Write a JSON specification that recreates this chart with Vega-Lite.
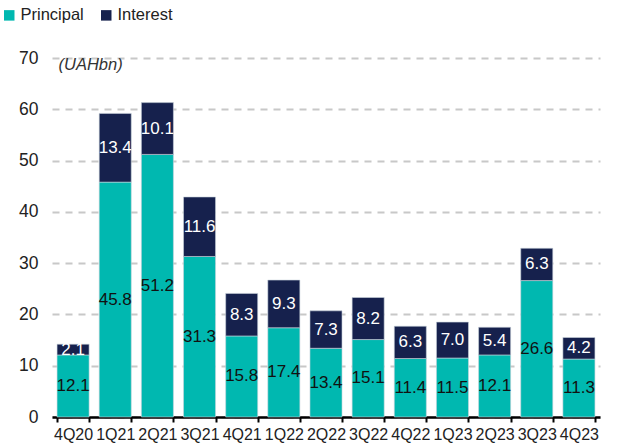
{
  "$schema": "https://vega.github.io/schema/vega-lite/v6.json",
  "autosize": "none",
  "width": 548,
  "height": 359,
  "padding": {"left": 52, "top": 58, "right": 19, "bottom": 30},
  "config": {
    "font": "Liberation Sans",
    "view": {"stroke": null}
  },
  "data": {
    "values": [
      {"q": "4Q20", "series": "Principal", "v": 12.1, "o": 0},
      {"q": "4Q20", "series": "Interest", "v": 2.1, "o": 1},
      {"q": "1Q21", "series": "Principal", "v": 45.8, "o": 0},
      {"q": "1Q21", "series": "Interest", "v": 13.4, "o": 1},
      {"q": "2Q21", "series": "Principal", "v": 51.2, "o": 0},
      {"q": "2Q21", "series": "Interest", "v": 10.1, "o": 1},
      {"q": "3Q21", "series": "Principal", "v": 31.3, "o": 0},
      {"q": "3Q21", "series": "Interest", "v": 11.6, "o": 1},
      {"q": "4Q21", "series": "Principal", "v": 15.8, "o": 0},
      {"q": "4Q21", "series": "Interest", "v": 8.3, "o": 1},
      {"q": "1Q22", "series": "Principal", "v": 17.4, "o": 0},
      {"q": "1Q22", "series": "Interest", "v": 9.3, "o": 1},
      {"q": "2Q22", "series": "Principal", "v": 13.4, "o": 0},
      {"q": "2Q22", "series": "Interest", "v": 7.3, "o": 1},
      {"q": "3Q22", "series": "Principal", "v": 15.1, "o": 0},
      {"q": "3Q22", "series": "Interest", "v": 8.2, "o": 1},
      {"q": "4Q22", "series": "Principal", "v": 11.4, "o": 0},
      {"q": "4Q22", "series": "Interest", "v": 6.3, "o": 1},
      {"q": "1Q23", "series": "Principal", "v": 11.5, "o": 0},
      {"q": "1Q23", "series": "Interest", "v": 7.0, "o": 1},
      {"q": "2Q23", "series": "Principal", "v": 12.1, "o": 0},
      {"q": "2Q23", "series": "Interest", "v": 5.4, "o": 1},
      {"q": "3Q23", "series": "Principal", "v": 26.6, "o": 0},
      {"q": "3Q23", "series": "Interest", "v": 6.3, "o": 1},
      {"q": "4Q23", "series": "Principal", "v": 11.3, "o": 0},
      {"q": "4Q23", "series": "Interest", "v": 4.2, "o": 1}
    ]
  },
  "transform": [
    {"stack": "v", "groupby": ["q"], "sort": [{"field": "o"}], "as": ["v0", "v1"]},
    {"calculate": "(datum.v0 + datum.v1) / 2", "as": "mid"}
  ],
  "encoding": {
    "x": {
      "field": "q", "type": "nominal", "sort": null,
      "scale": {"paddingInner": 0.24, "paddingOuter": 0.12},
      "axis": {
        "title": null, "labelAngle": 0, "labelFontSize": 16, "labelColor": "#222222",
        "domainColor": "#000000", "domainWidth": 2.5, "tickColor": "#000000", "tickWidth": 2,
        "tickSize": 5, "tickBand": "extent", "labelPadding": 4, "grid": false
      }
    }
  },
  "layer": [
    {
      "mark": {"type": "bar", "stroke": "#c9d3dc", "strokeWidth": 0.6},
      "encoding": {
        "y": {
          "field": "v0", "type": "quantitative",
          "scale": {"domain": [0, 70], "nice": false},
          "axis": {
            "title": "(UAHbn)", "titleAngle": 0, "titleX": 6, "titleY": 6, "titleAlign": "left",
            "titleBaseline": "middle", "titleFontStyle": "italic", "titleFontWeight": "normal",
            "titleFontSize": 16.5, "titleColor": "#333333",
            "values": [0, 10, 20, 30, 40, 50, 60, 70],
            "labelFontSize": 17.5, "labelColor": "#222222", "labelPadding": 14,
            "ticks": false, "domain": false,
            "grid": true, "gridColor": "#c8c8c8", "gridWidth": 2, "gridDash": [7, 6]
          }
        },
        "y2": {"field": "v1"},
        "color": {
          "field": "series", "type": "nominal",
          "scale": {"domain": ["Principal", "Interest"], "range": ["#00b8b0", "#16214d"]},
          "legend": {
            "title": null, "orient": "none", "direction": "horizontal",
            "legendX": -51, "legendY": -51, "symbolType": "square", "symbolSize": 110,
            "symbolStrokeWidth": 0, "labelFontSize": 16.5, "labelColor": "#222222",
            "columnPadding": 14, "labelOffset": 3
          }
        }
      }
    },
    {
      "mark": {"type": "text", "fontSize": 17, "baseline": "middle"},
      "encoding": {
        "y": {"field": "mid", "type": "quantitative"},
        "text": {"field": "v", "type": "quantitative", "format": ".1f"},
        "color": {
          "condition": {"test": "datum.series === 'Interest'", "value": "#ffffff"},
          "value": "#111111"
        }
      }
    }
  ]
}
